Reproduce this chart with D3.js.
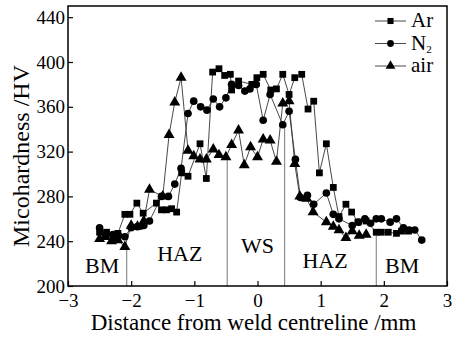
<!DOCTYPE html>
<html lang="en">
    <head>
        <meta charset="utf-8">
        <title>Microhardness across weld</title>
        <script type="text/javascript" src="https://cdn.jsdelivr.net/npm/d3@7/dist/d3.min.js"></script>
        <style type="text/css">
          body { margin: 0; background: #fff; }
        </style>
    </head>
    <body>
        <script type="text/javascript">

          // Ar
          var arDist = [-2.50, -2.39, -2.29, -2.21, -2.10, -2.02, -1.91, -1.81, -1.60, -1.52, -1.44, -1.36, -1.28,
                        -1.20, -1.10, -0.91, -0.81, -0.71, -0.61, -0.52, -0.43, -0.41, -0.30, -0.09, -0.01,
                        0.09, 0.21, 0.30, 0.40, 0.50, 0.59, 0.70, 0.80, 0.89, 0.98, 1.09, 1.20, 1.29, 1.40,
                        1.49, 1.59, 1.72, 1.88, 1.96, 2.07, 2.20, 2.28, 2.39];
          var arHV = [248, 248, 244, 247, 264, 264, 274, 265, 274, 268, 268, 269, 266,
                      301, 298, 327, 296, 391, 394, 388, 389, 375, 383, 380, 386,
                      389, 375, 376, 389, 371, 386, 389, 358, 365, 301, 327, 288, 262, 273,
                      266, 257, 258, 248, 248, 248, 247, 249, 249];

          // N2
          var n2Dist = [-2.50, -2.40, -2.29, -2.20, -2.10, -2.00, -1.90, -1.80, -1.71, -1.52, -1.41, -1.31,
                        -1.21, -1.10, -1.01, -0.90, -0.80, -0.70, -0.60, -0.50, -0.41, -0.30, -0.20, -0.12,
                        -0.02, 0.09, 0.20, 0.40, 0.50, 0.60, 0.68, 0.79, 0.89, 1.09, 1.20, 1.29, 1.50,
                        1.60, 1.70, 1.79, 1.88, 1.96, 2.10, 2.20, 2.31, 2.40, 2.49, 2.60];
          var n2HV = [252, 246, 246, 245, 244, 252, 253, 254, 258, 280, 280, 291,
                      305, 354, 365, 360, 357, 367, 360, 368, 380, 379, 374, 376,
                      380, 348, 371, 344, 356, 313, 279, 281, 273, 283, 264, 260, 254,
                      257, 260, 256, 260, 260, 257, 260, 252, 250, 250, 241];

          // air
          var airDist = [-2.50, -2.41, -2.31, -2.21, -2.10, -2.00, -1.90, -1.80, -1.71, -1.50, -1.40, -1.31,
                         -1.21, -1.10, -1.01, -0.91, -0.81, -0.70, -0.61, -0.50, -0.41, -0.30, -0.21, -0.11,
                         0.00, 0.09, 0.20, 0.30, 0.40, 0.50, 0.59, 0.67, 0.78, 0.88, 1.09, 1.20, 1.29, 1.40,
                         1.50, 1.61, 1.72];
          var airHV = [242, 244, 240, 241, 235, 254, 253, 258, 286, 280, 335, 364,
                       386, 321, 316, 313, 313, 322, 317, 315, 326, 339, 308, 324,
                       315, 331, 330, 311, 363, 365, 309, 280, 278, 266, 257, 253, 250, 243,
                       249, 245, 246];

          var xTicks = [-3, -2, -1, 0, 1, 2, 3];
          var yTicks = [200, 240, 280, 320, 360, 400, 440];

          var zoneNames = ["BM", "HAZ", "WS", "HAZ", "BM"];
          var zoneX = [-2.46, -1.23, 0.0, 1.07, 2.29];
          var zoneY = [211.5, 222, 229.5, 216, 211.5];

          var dividerX = [-2.07, -0.48, 0.43, 1.88];
          var dividerTop = [236, 315, 344, 248];

          var seriesNames = ["Ar", "N", "air"];

          var serif = "'Liberation Serif'";

          var w = 455;
          var h = 337;
          var margin = {top: 6, right: 8, bottom: 51, left: 68},
              width = w - margin.left - margin.right,
              height = h - margin.top - margin.bottom;

          var svg = d3.select("body")
                      .append("svg")
                      .attr("width", w)
                      .attr("height", h);

          var xScale = d3.scaleLinear()
                         .domain([-3, 3])
                         .range([margin.left, margin.left + width]);

          var yScale = d3.scaleLinear()
                         .domain([200, 450])
                         .range([margin.top + height, margin.top]);

          var series = [
            {name: "Ar", symbol: d3.symbolSquare, size: 46,
             pts: arDist.map(function(d, i){ return [d, arHV[i]]; })},
            {name: "N2", symbol: d3.symbolCircle, size: 46,
             pts: n2Dist.map(function(d, i){ return [d, n2HV[i]]; })},
            {name: "air", symbol: d3.symbolTriangle, size: 52,
             pts: airDist.map(function(d, i){ return [d, airHV[i]]; })}
          ];

          // divider lines between zones
          svg.selectAll(".divider")
             .data(dividerX)
             .enter()
             .append("line")
             .attr("x1", function(d){ return xScale(d); })
             .attr("x2", function(d){ return xScale(d); })
             .attr("y1", yScale(200))
             .attr("y2", function(d, i){ return yScale(dividerTop[i]); })
             .style("stroke", "#777")
             .style("stroke-width", 1);

          var line = d3.line()
                       .x(function(d){ return xScale(d[0]); })
                       .y(function(d){ return yScale(d[1]); });

          series.forEach(function(s){
            svg.append("path")
               .datum(s.pts)
               .attr("d", line)
               .style("fill", "none")
               .style("stroke", "#333")
               .style("stroke-width", 0.9);
          });

          series.forEach(function(s){
            svg.selectAll(".m-" + s.name)
               .data(s.pts)
               .enter()
               .append("path")
               .attr("transform", function(d){ return "translate(" + xScale(d[0]) + "," + yScale(d[1]) + ")"; })
               .attr("d", d3.symbol().type(s.symbol).size(s.size))
               .style("fill", "#000");
          });

          // axes, ticks pointing inward
          var xAxis = d3.axisBottom(xScale)
                        .tickValues(xTicks)
                        .tickSize(-5)
                        .tickSizeOuter(0)
                        .tickPadding(8)
                        .tickFormat(d3.format("d"));

          var yAxis = d3.axisLeft(yScale)
                        .tickValues(yTicks)
                        .tickSize(-5)
                        .tickSizeOuter(0)
                        .tickPadding(3);

          var gx = svg.append("g")
             .attr("transform", "translate(0," + (margin.top + height) + ")")
             .call(xAxis);

          var gy = svg.append("g")
             .attr("transform", "translate(" + margin.left + ",0)")
             .call(yAxis);

          gx.attr("font-size", 19);
          gy.attr("font-size", 19);
          gy.selectAll("text").attr("dy", "0.32em");

          svg.selectAll(".domain").remove();
          svg.selectAll(".tick line").style("stroke", "#000").style("stroke-width", 1.2);

          // frame
          svg.append("rect")
             .attr("x", margin.left)
             .attr("y", margin.top)
             .attr("width", width)
             .attr("height", height)
             .style("fill", "none")
             .style("stroke", "#000")
             .style("stroke-width", 1.5);

          // zone labels
          svg.selectAll(".zone")
             .data(zoneNames)
             .enter()
             .append("text")
             .attr("x", function(d, i){ return xScale(zoneX[i]); })
             .attr("y", function(d, i){ return yScale(zoneY[i]); })
             .attr("text-anchor", "middle")
             .style("font-size", "22px")
             .text(function(d){ return d; });

          // legend
          var legend = svg.append("g").attr("transform", "translate(375,21)");
          series.forEach(function(s, i){
            var g = legend.append("g").attr("transform", "translate(0," + (i * 22.5) + ")");
            g.append("line")
             .attr("x1", 0).attr("x2", 31)
             .style("stroke", "#333").style("stroke-width", 0.9);
            g.append("path")
             .attr("transform", "translate(15.5,0)")
             .attr("d", d3.symbol().type(s.symbol).size(s.size * 0.8))
             .style("fill", "#000");
            var t = g.append("text")
             .attr("x", 36).attr("y", 6)
             .style("font-size", "21px")
             .text(seriesNames[i]);
            if (s.name === "N2") {
              t.append("tspan").attr("dy", 3).style("font-size", "11px").text("2");
            }
          });

          // axis titles
          svg.append("text")
             .attr("x", margin.left + width / 2 - 4)
             .attr("y", h - 7)
             .attr("text-anchor", "middle")
             .style("font-size", "23px")
             .text("Distance from weld centreline /mm");

          svg.append("text")
             .attr("transform", "translate(29," + (margin.top + height / 2 + 10) + ") rotate(-90)")
             .attr("text-anchor", "middle")
             .style("font-size", "24px")
             .text("Micohardness /HV");

          svg.selectAll("text").style("font-family", serif).style("fill", "#000");

        </script>
    </body>
</html>
